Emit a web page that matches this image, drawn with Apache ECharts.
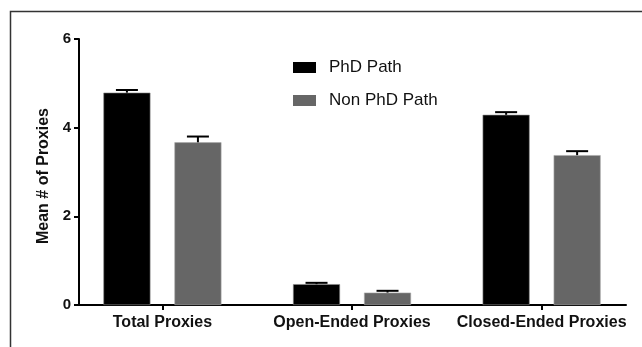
<!DOCTYPE html>
<html>
<head>
<meta charset="utf-8">
<script src="https://cdn.jsdelivr.net/npm/echarts@6/dist/echarts.min.js"></script>
<style>
  html, body { margin: 0; padding: 0; background: #fff; }
  #chart { width: 642px; height: 347px; }
</style>
</head>
<body>
<div id="chart"></div>
<script>
// Categories and group means with SEM error bars
const categories = ['Total Proxies', 'Open-Ended Proxies', 'Closed-Ended Proxies'];
const seriesNames = ['PhD Path', 'Non PhD Path'];
const phdMeans = [4.79, 0.47, 4.29];
const phdErrors = [0.06, 0.03, 0.06];
const nonPhdMeans = [3.67, 0.28, 3.38];
const nonPhdErrors = [0.13, 0.04, 0.09];
const yTicks = [0, 2, 4, 6];

const FONT = '"Liberation Sans", Arial, sans-serif';
const BAR_W = 47;
const BAR_GAP = 24;
const HALF_STEP = (BAR_W + BAR_GAP) / 2;
const colors = ['#000000', '#666666'];

function barData(means) {
  return means.map((v, i) => [i, v]);
}
function errData(means, errs) {
  return means.map((v, i) => [i, v, errs[i]]);
}

// Upper error whisker with a cap, shifted to sit on its own bar within the group
function makeErrorRenderer(shift) {
  return function (params, api) {
    const idx = api.value(0);
    const mean = api.value(1);
    const err = api.value(2);
    const base = api.coord([idx, mean]);
    const top = api.coord([idx, mean + err]);
    const x = base[0] + shift;
    const capHalf = 11;
    const style = { stroke: '#000', lineWidth: 2 };
    return {
      type: 'group',
      children: [
        { type: 'line', shape: { x1: x, y1: base[1], x2: x, y2: top[1] }, style: style },
        { type: 'line', shape: { x1: x - capHalf, y1: top[1], x2: x + capHalf, y2: top[1] }, style: style }
      ]
    };
  };
}

const chart = echarts.init(document.getElementById('chart'));
chart.setOption({
  animation: false,
  backgroundColor: '#ffffff',
  graphic: [{
    type: 'rect',
    shape: { x: 10.5, y: 11.5, width: 700, height: 400 },
    style: { fill: 'none', stroke: '#333', lineWidth: 1.5 },
    silent: true
  }],
  legend: {
    orient: 'vertical',
    left: 293,
    top: 59,
    padding: 0,
    itemWidth: 23,
    itemHeight: 11,
    itemGap: 16,
    icon: 'rect',
    data: seriesNames,
    itemStyle: { borderWidth: 0 },
    textStyle: { fontFamily: FONT, fontSize: 17, color: '#111', padding: [0, 0, 0, 8] }
  },
  grid: { left: 79, right: 16, top: 39, bottom: 42, containLabel: false },
  xAxis: {
    type: 'value',
    min: -0.44,
    max: 2.445,
    splitLine: { show: false },
    axisLine: { show: true, onZero: false, lineStyle: { color: '#000', width: 2 } },
    axisTick: { show: true, length: 5, lineStyle: { color: '#000', width: 2 }, customValues: [0, 1, 2] },
    axisLabel: {
      customValues: [0, 1, 2],
      formatter: (v) => categories[Math.round(v)] || '',
      fontFamily: FONT, fontSize: 16, fontWeight: 'bold', color: '#111', margin: 10
    }
  },
  yAxis: {
    type: 'value',
    min: yTicks[0],
    max: yTicks[yTicks.length - 1],
    interval: 2,
    name: 'Mean # of Proxies',
    nameLocation: 'middle',
    nameGap: 19,
    nameTextStyle: {
      fontFamily: FONT, fontSize: 16, fontWeight: 'bold', color: '#111',
      padding: [0, 8, 0, 0]
    },
    splitLine: { show: false },
    axisLine: { show: true, onZero: false, lineStyle: { color: '#000', width: 2 } },
    axisTick: { show: true, length: 5, lineStyle: { color: '#000', width: 2 } },
    axisLabel: { fontFamily: FONT, fontSize: 15, fontWeight: 'bold', color: '#111', margin: 8 }
  },
  series: [
    {
      name: seriesNames[0],
      type: 'bar',
      barWidth: BAR_W,
      barGap: (BAR_GAP / BAR_W * 100).toFixed(1) + '%',
      itemStyle: { color: colors[0], borderColor: '#888', borderWidth: 0.6 },
      data: barData(phdMeans),
      z: 2
    },
    {
      name: seriesNames[1],
      type: 'bar',
      barWidth: BAR_W,
      barGap: (BAR_GAP / BAR_W * 100).toFixed(1) + '%',
      itemStyle: { color: colors[1], borderColor: '#aaa', borderWidth: 0.6 },
      data: barData(nonPhdMeans),
      z: 2
    },
    {
      type: 'custom',
      renderItem: makeErrorRenderer(-HALF_STEP),
      data: errData(phdMeans, phdErrors),
      z: 3,
      silent: true
    },
    {
      type: 'custom',
      renderItem: makeErrorRenderer(HALF_STEP),
      data: errData(nonPhdMeans, nonPhdErrors),
      z: 3,
      silent: true
    }
  ]
});
</script>
</body>
</html>
